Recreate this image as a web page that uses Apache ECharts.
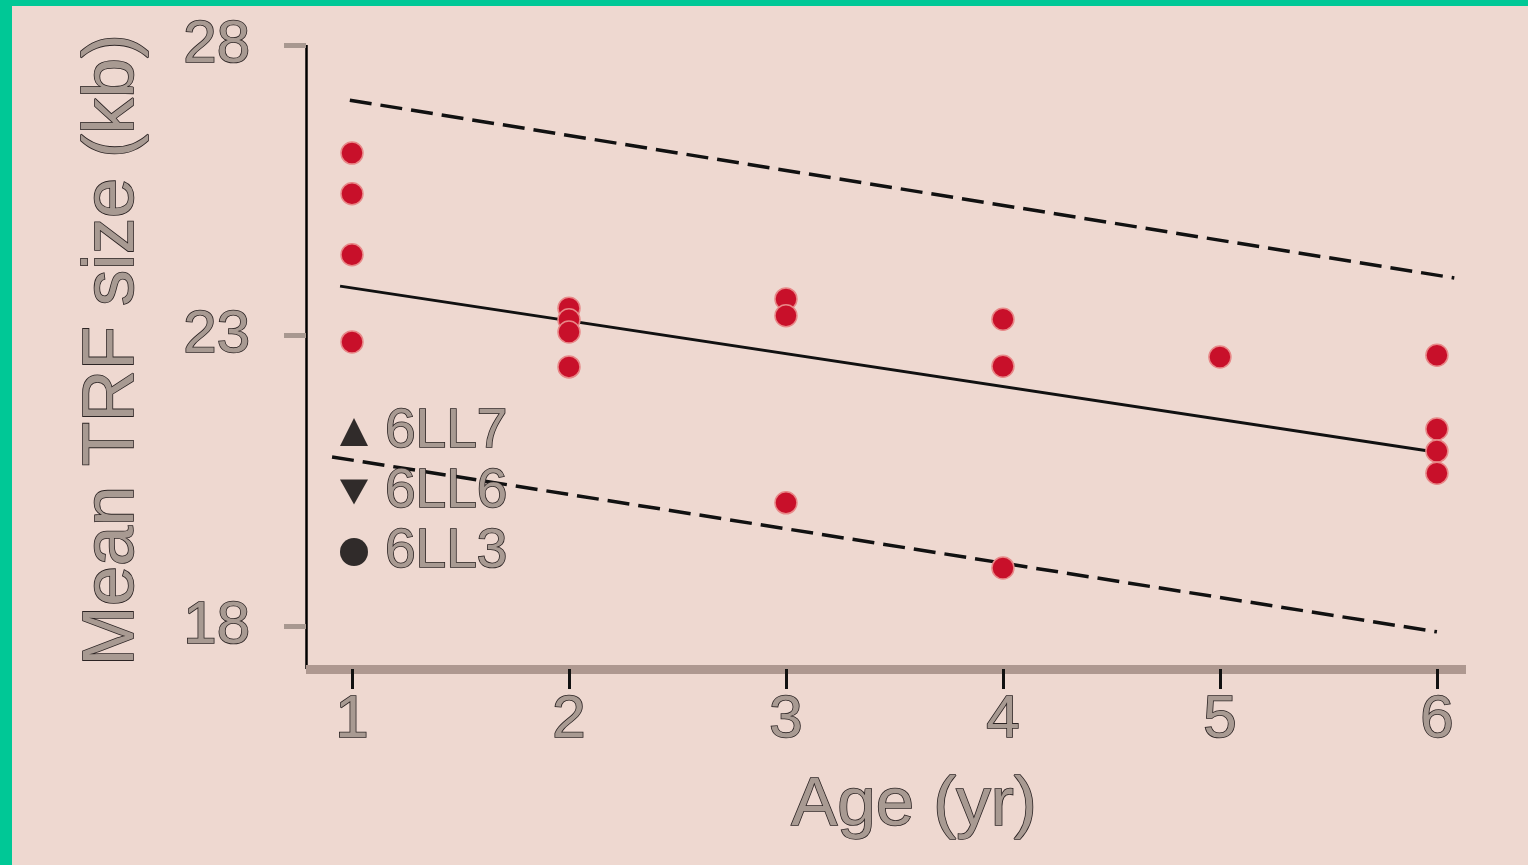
<!DOCTYPE html>
<html>
<head>
<meta charset="utf-8">
<script src="https://cdn.jsdelivr.net/npm/echarts@6/dist/echarts.min.js"></script>
<style>
html,body{margin:0;padding:0;background:#eed8d0;}
#c{width:1528px;height:865px;}
</style>
</head>
<body>
<div id="c"></div>
<script>
// ---- data ----
const ages = [1, 1, 1, 1, 2, 2, 2, 2, 3, 3, 3, 4, 4, 4, 5, 6, 6, 6, 6];
const trf  = [26.14, 25.44, 24.39, 22.89, 23.47, 23.27, 23.06, 22.46, 23.63, 23.34, 20.12, 23.28, 22.47, 19.0, 22.63, 22.66, 21.39, 21.01, 20.63];
const upperLineX = [0.99, 6.08];
const upperLineY = [27.05, 23.99];
const fitLineX = [0.945, 6.0];
const fitLineY = [23.85, 20.99];
const lowerLineX = [0.908, 6.0];
const lowerLineY = [20.91, 17.9];
const xTicks = [1, 2, 3, 4, 5, 6];
const yTicks = [18, 23, 28];
const legendNames = ['6LL7', '6LL6', '6LL3'];
const xTitle = 'Age (yr)';
const yTitle = 'Mean TRF size (kb)';

const FONT = "'Liberation Sans', Arial, sans-serif";
const textFill = '#a89a92';
const textEdge = '#2c2424';

function zip(xs, ys) { return xs.map((x, i) => [x, ys[i]]); }

const chart = echarts.init(document.getElementById('c'), null, {renderer: 'canvas'});
const option = {
  backgroundColor: '#eed8d0',
  animation: false,
  grid: {left: 306, right: 62, top: 45, bottom: 196, containLabel: false},
  xAxis: {
    type: 'value', min: 0.788, max: 6.134,
    axisLine: {show: true, lineStyle: {color: '#ae9890', width: 9, cap: 'butt'}},
    axisTick: {show: true, customValues: xTicks, length: 20, lineStyle: {color: '#111', width: 3}},
    axisLabel: {customValues: xTicks, margin: 21, fontSize: 60, fontFamily: FONT,
      color: textFill, textBorderColor: textEdge, textBorderWidth: 1.6},
    splitLine: {show: false}
  },
  yAxis: {
    type: 'value', min: 17.26, max: 28,
    axisLine: {show: true, lineStyle: {color: '#000', width: 2.5, cap: 'butt'}},
    axisTick: {show: true, customValues: yTicks, length: 22, lineStyle: {color: '#a89890', width: 5}},
    axisLabel: {customValues: yTicks, margin: 56, fontSize: 60, fontFamily: FONT,
      color: textFill, textBorderColor: textEdge, textBorderWidth: 1.6},
    splitLine: {show: false}
  },
  legend: {
    orient: 'vertical', left: 340, top: 402, padding: 0, itemGap: 0,
    itemWidth: 28, itemHeight: 28, selectedMode: false,
    textStyle: {fontSize: 55, lineHeight: 60, fontFamily: FONT, color: textFill,
      textBorderColor: textEdge, textBorderWidth: 1.6, padding: [0, 0, 0, 12]},
    data: [
      {name: legendNames[0], icon: 'triangle'},
      {name: legendNames[1], icon: 'path://M0,0L10,0L5,9Z'},
      {name: legendNames[2], icon: 'circle'}
    ]
  },
  graphic: [
    {type: 'rect', shape: {x: 0, y: 0, width: 1528, height: 6}, style: {fill: '#00c896'}, z: 100},
    {type: 'rect', shape: {x: 0, y: 0, width: 12, height: 865}, style: {fill: '#00c896'}, z: 100},
    {type: 'text', x: 914, y: 806, style: {text: xTitle, fontSize: 69, fontFamily: FONT,
      fill: textFill, stroke: textEdge, lineWidth: 1.6, align: 'center', verticalAlign: 'middle'}},
    {type: 'text', x: 113, y: 350, rotation: Math.PI / 2, style: {text: yTitle, fontSize: 72, fontFamily: FONT,
      fill: textFill, stroke: textEdge, lineWidth: 1.6, align: 'center', verticalAlign: 'middle'}}
  ],
  series: [
    {name: legendNames[0], type: 'scatter', data: [], itemStyle: {color: '#000'}},
    {name: legendNames[1], type: 'scatter', data: [], itemStyle: {color: '#000'}},
    {name: legendNames[2], type: 'scatter', data: [], itemStyle: {color: '#000'}},
    {type: 'line', data: zip(upperLineX, upperLineY), showSymbol: false, symbol: 'none',
      lineStyle: {color: '#111', width: 3.5, type: [22, 9]}, z: 3},
    {type: 'line', data: zip(fitLineX, fitLineY), showSymbol: false, symbol: 'none',
      lineStyle: {color: '#111', width: 3}, z: 3},
    {type: 'line', data: zip(lowerLineX, lowerLineY), showSymbol: false, symbol: 'none',
      lineStyle: {color: '#111', width: 3.5, type: [22, 9]}, z: 3},
    {type: 'scatter', data: zip(ages, trf), symbol: 'circle', symbolSize: 22,
      itemStyle: {color: '#c8102a', borderColor: '#e88888', borderWidth: 1.5, opacity: 1}, z: 4}
  ]
};
chart.setOption(option);
</script>
</body>
</html>
